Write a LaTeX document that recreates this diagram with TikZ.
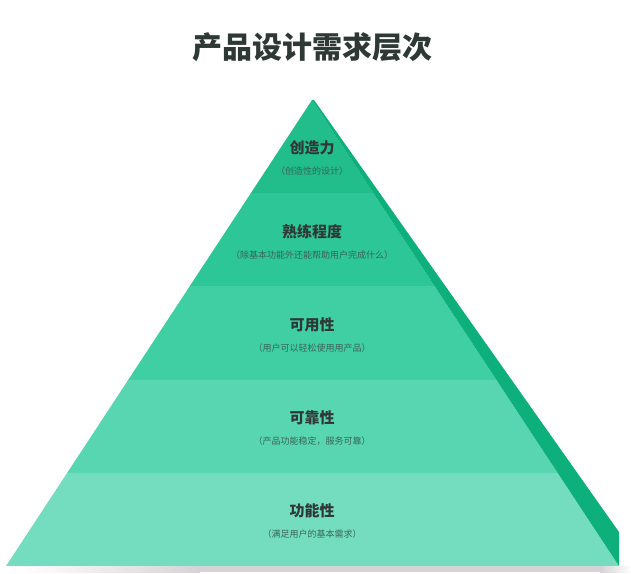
\documentclass[tikz,border=0pt]{standalone}
\usepackage{fontspec}
\usepackage{tikz}
\usetikzlibrary{positioning}
\newfontfamily\cjk{Noto Sans CJK SC}
\definecolor{pTop}{HTML}{21BD8B}
\definecolor{pTwo}{HTML}{2CC697}
\definecolor{pThree}{HTML}{40CFA3}
\definecolor{pFour}{HTML}{58D6B1}
\definecolor{pBase}{HTML}{74DDBF}
\definecolor{pSide}{HTML}{0DB07A}
\definecolor{pShadow}{HTML}{D4D4D6}
\definecolor{tDark}{HTML}{2E3834}
\definecolor{tSub}{HTML}{3A6456}

\begin{document}
\begin{tikzpicture}[x=1pt, y=-1pt,
    lvltitle/.style={inner sep=0pt, text=tDark, font=\cjk\bfseries\fontsize{15}{15}\selectfont},
    lvlsub/.style={inner sep=0pt, text=tSub, font=\cjk\fontsize{9}{9}\selectfont}]
    \useasboundingbox (0,0) rectangle (631,573);
    % shadow under the base
    \shade[left color=white, right color=pShadow] (20,566) rectangle (200,572);
    \fill[pShadow] (200,566) rectangle (600,572);
    \shade[left color=pShadow, right color=white] (600,566) rectangle (631,572);
    % front face, five bands
    \coordinate (apex) at (312,100);
    \coordinate (bl) at (6,566);
    \coordinate (br) at (619,566);
    \begin{scope}
      \clip (apex) -- (bl) -- (br) -- cycle;
      \foreach \c [count=\i] in {pTop,pTwo,pThree,pFour,pBase}
        \fill[\c] (0,{100+(\i-1)*93.2}) rectangle (631,{100+\i*93.2});
    \end{scope}
    % side face
    \fill[pSide] (apex) -- (br) -- (619,532) -- (314,100) -- cycle;
    % title
    \node[inner sep=0pt, text=tDark, font=\cjk\bfseries\fontsize{30}{30}\selectfont] (title) at (312,47) {产品设计需求层次};
    % labels
    \foreach \y/\ttl/\sub [count=\i] in {148/创造力/（创造性的设计）,
        232/熟练程度/（除基本功能外还能帮助用户完成什么）,
        325/可用性/（用户可以轻松使用用产品）,
        418/可靠性/（产品功能稳定，服务可靠）,
        511/功能性/（满足用户的基本需求）} {
      \node[lvltitle] (t\i) at (312,\y) {\ttl};
      \node[lvlsub, below=11pt of t\i] (s\i) {\sub};
    }
\end{tikzpicture}
\end{document}
